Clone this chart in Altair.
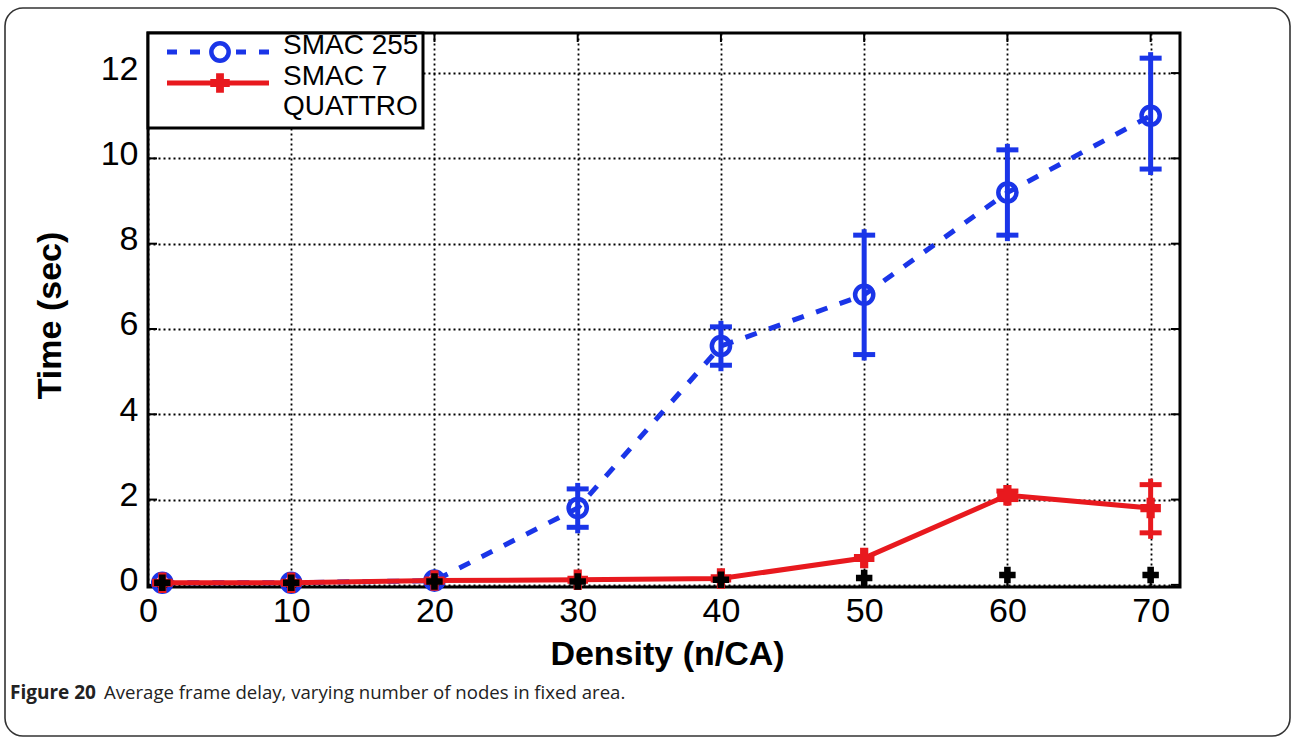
import altair as alt
import pandas as pd

# ---- data -------------------------------------------------------------
density = [1, 10, 20, 30, 40, 50, 60, 70]

smac255 = [0.05, 0.05, 0.10, 1.80, 5.60, 6.80, 9.20, 11.00]
smac255_lo = [0.05, 0.05, 0.10, 1.35, 5.15, 5.40, 8.20, 9.75]
smac255_hi = [0.05, 0.05, 0.10, 2.25, 6.05, 8.20, 10.20, 12.35]

smac7 = [0.05, 0.05, 0.10, 0.12, 0.15, 0.63, 2.10, 1.80]
smac7_lo = [0.05, 0.05, 0.10, 0.12, 0.15, 0.63, 2.00, 1.22]
smac7_hi = [0.05, 0.05, 0.10, 0.12, 0.15, 0.63, 2.20, 2.35]

quattro = [0.05, 0.05, 0.08, 0.08, 0.12, 0.16, 0.23, 0.23]

series_names = ["SMAC 255", "SMAC 7", "QUATTRO"]
x_ticks = [0, 10, 20, 30, 40, 50, 60, 70]
y_ticks = [0, 2, 4, 6, 8, 10, 12]

x_title = "Density (n/CA)"
y_title = "Time (sec)"
caption_bold = "Figure 20"
caption_rest = "Average frame delay, varying number of nodes in fixed area."

# ---- styling ----------------------------------------------------------
BLUE = "#1a35e8"
RED = "#e8191e"
FONT = "Liberation Sans"
W, H = 1032, 554

df255 = pd.DataFrame({"x": density, "y": smac255, "lo": smac255_lo, "hi": smac255_hi})
df7 = pd.DataFrame({"x": density, "y": smac7, "lo": smac7_lo, "hi": smac7_hi})
dfq = pd.DataFrame({"x": density, "y": quattro})
err255 = df255[df255["lo"] != df255["hi"]]
err7 = df7[df7["lo"] != df7["hi"]]
one = pd.DataFrame({"k": [0]})
xt = pd.DataFrame({"x": x_ticks})
yt = pd.DataFrame({"y": y_ticks})

xs = alt.Scale(domain=[0, 72.05], nice=False, zero=False)
ys = alt.Scale(domain=[-0.05, 12.94], nice=False, zero=False)

x_axis = alt.Axis(
    values=x_ticks, grid=True, gridDash=[2, 3], gridColor="black", gridWidth=1.8,
    gridOpacity=1, domain=False, ticks=False, labelFont=FONT, labelFontSize=34,
    labelColor="black", labelPadding=7, labelFlush=False, title=x_title,
    titleFont=FONT, titleFontSize=34, titleFontWeight="bold", titleColor="black",
    titleX=519, titleY=77, titleAlign="center", titleBaseline="alphabetic",
)
y_axis = alt.Axis(
    values=y_ticks, grid=True, gridDash=[2, 3], gridColor="black", gridWidth=1.8,
    gridOpacity=1, domain=False, ticks=False, labelFont=FONT, labelFontSize=34,
    labelColor="black", labelPadding=10, labelOffset=-4, labelFlush=False,
    title=y_title, titleFont=FONT, titleFontSize=34, titleFontWeight="bold",
    titleColor="black", titleX=-98, titleY=282, titleAngle=270,
    titleAlign="center", titleBaseline="middle",
)

# every layer shares the same x / y definitions so the axes merge cleanly
X = alt.X("x:Q", scale=xs, axis=x_axis)
Y = alt.Y("y:Q", scale=ys, axis=y_axis)
YLO = alt.Y("lo:Q", scale=ys, axis=y_axis)
YHI = alt.Y("hi:Q", scale=ys, axis=y_axis)

# rounded outer frame
frame = alt.Chart(one).mark_rect(
    cornerRadius=18, fillOpacity=0, stroke="#333333", strokeWidth=1.6
).encode(x=alt.value(5 - 148), x2=alt.value(1290 - 148),
         y=alt.value(8 - 33), y2=alt.value(736 - 33))

# inward tick marks on all four sides
tick_b = alt.Chart(xt).mark_rule(color="black", strokeWidth=2).encode(
    x=X, y=alt.value(H), y2=alt.value(H - 9))
tick_t = alt.Chart(xt).mark_rule(color="black", strokeWidth=2).encode(
    x=X, y=alt.value(0), y2=alt.value(9))
tick_l = alt.Chart(yt).mark_rule(color="black", strokeWidth=2).encode(
    y=Y, x=alt.value(0), x2=alt.value(9))
tick_r = alt.Chart(yt).mark_rule(color="black", strokeWidth=2).encode(
    y=Y, x=alt.value(W), x2=alt.value(W - 9))

# SMAC 255
line255 = alt.Chart(df255).mark_line(
    color=BLUE, strokeWidth=5, strokeDash=[12, 13]).encode(x=X, y=Y)
bar255 = alt.Chart(err255).mark_rule(
    color=BLUE, strokeWidth=5, yOffset=6, y2Offset=-6).encode(x=X, y=YLO, y2="hi:Q")
caplo255 = alt.Chart(err255).mark_rule(
    color=BLUE, strokeWidth=5, xOffset=-11, x2Offset=11).encode(x=X, x2="x:Q", y=YLO)
caphi255 = alt.Chart(err255).mark_rule(
    color=BLUE, strokeWidth=5, xOffset=-11, x2Offset=11).encode(x=X, x2="x:Q", y=YHI)
pts255 = alt.Chart(df255).mark_point(
    shape="circle", size=330, color=BLUE, strokeWidth=4.5, filled=False,
    opacity=1).encode(x=X, y=Y)

# SMAC 7
line7 = alt.Chart(df7).mark_line(color=RED, strokeWidth=5).encode(x=X, y=Y)
bar7 = alt.Chart(err7).mark_rule(
    color=RED, strokeWidth=5, yOffset=6, y2Offset=-6).encode(x=X, y=YLO, y2="hi:Q")
caplo7 = alt.Chart(err7).mark_rule(
    color=RED, strokeWidth=5, xOffset=-11, x2Offset=11).encode(x=X, x2="x:Q", y=YLO)
caphi7 = alt.Chart(err7).mark_rule(
    color=RED, strokeWidth=5, xOffset=-11, x2Offset=11).encode(x=X, x2="x:Q", y=YHI)
pts7 = alt.Chart(df7).mark_point(
    shape="cross", size=420, color=RED, filled=True, opacity=1).encode(x=X, y=Y)

# QUATTRO
ptsq = alt.Chart(dfq).mark_point(
    shape="cross", size=270, color="black", filled=True, opacity=1).encode(x=X, y=Y)

# legend box in the upper-left corner of the plot
leg_box = alt.Chart(one).mark_rect(
    fill="white", stroke="black", strokeWidth=3).encode(
    x=alt.value(0), x2=alt.value(275), y=alt.value(0), y2=alt.value(95))
leg_l1 = alt.Chart(one).mark_rule(
    color=BLUE, strokeWidth=5, strokeDash=[10, 13]).encode(
    x=alt.value(19), x2=alt.value(121), y=alt.value(19))
leg_p1 = alt.Chart(one).mark_point(
    shape="circle", size=300, color=BLUE, strokeWidth=4.5, filled=False,
    fill="white", fillOpacity=1, opacity=1).encode(x=alt.value(72), y=alt.value(19))
leg_l2 = alt.Chart(one).mark_rule(color=RED, strokeWidth=5).encode(
    x=alt.value(19), x2=alt.value(121), y=alt.value(50))
leg_p2 = alt.Chart(one).mark_point(
    shape="cross", size=380, color=RED, filled=True, opacity=1).encode(
    x=alt.value(72), y=alt.value(50))
leg_rows = [13, 44, 74]
leg_txt = [
    alt.Chart(one).mark_text(
        font=FONT, fontSize=28, align="left", baseline="middle", color="black",
        text=name).encode(x=alt.value(135), y=alt.value(row))
    for name, row in zip(series_names, leg_rows)
]

# figure caption below the chart
cap1 = alt.Chart(one).mark_text(
    font="Open Sans", fontSize=19, fontWeight="bold", align="left",
    baseline="alphabetic", color="#222222", text=caption_bold).encode(
    x=alt.value(10 - 148), y=alt.value(699 - 33))
cap2 = alt.Chart(one).mark_text(
    font="Open Sans", fontSize=18.6, align="left", baseline="alphabetic",
    color="#222222", text=caption_rest).encode(
    x=alt.value(104 - 148), y=alt.value(699 - 33))

chart = alt.layer(
    frame, tick_b, tick_t, tick_l, tick_r,
    line255, bar255, caplo255, caphi255, pts255,
    line7, bar7, caplo7, caphi7, pts7, ptsq,
    leg_box, leg_l1, leg_p1, leg_l2, leg_p2, *leg_txt,
    cap1, cap2,
).properties(
    width=W, height=H,
    autosize=alt.AutoSizeParams(type="none"),
    padding={"left": 148, "top": 33, "right": 1292 - 148 - W, "bottom": 738 - 33 - H},
    background="white",
).configure_view(stroke="black", strokeWidth=3)

chart.save("out.html", embed_options={"renderer": "svg", "actions": False})
